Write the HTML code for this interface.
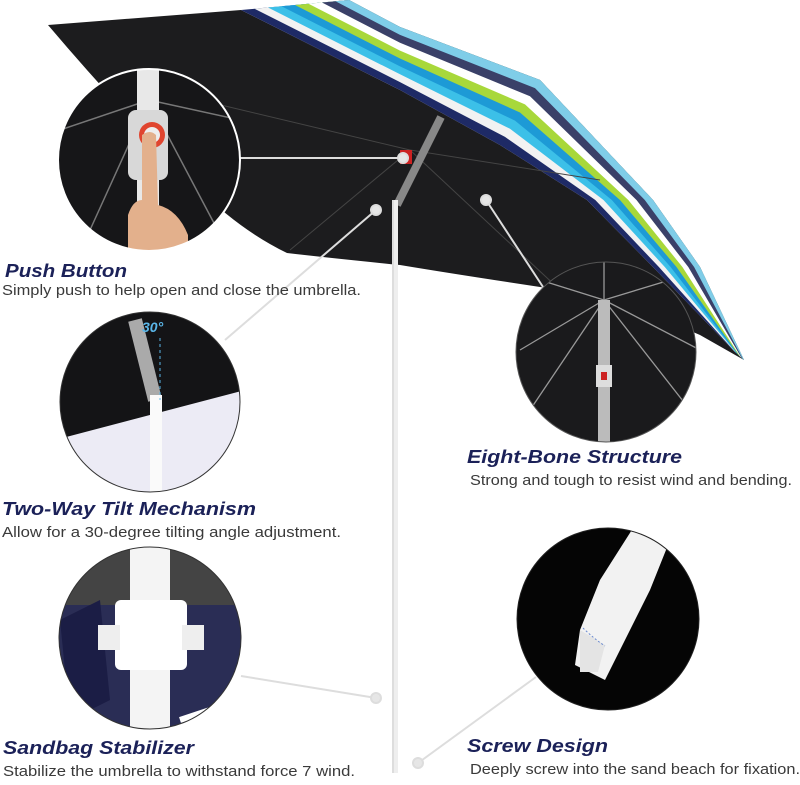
<!DOCTYPE html>
<html><head><meta charset="utf-8"><style>
html,body{margin:0;padding:0;background:#fff;width:800px;height:785px;overflow:hidden}
.t{font-family:"Liberation Sans",sans-serif;font-weight:bold;font-style:italic;font-size:18px;fill:#1b2158}
.d{font-family:"Liberation Sans",sans-serif;font-size:14.5px;fill:#3a3a3a}
</style></head><body>
<svg width="800" height="785" viewBox="0 0 800 785" xmlns="http://www.w3.org/2000/svg">
<defs>
<clipPath id="c1"><circle cx="149" cy="160" r="91"/></clipPath>
<clipPath id="c2"><circle cx="150" cy="402" r="90"/></clipPath>
<clipPath id="c3"><circle cx="150" cy="638" r="91"/></clipPath>
<clipPath id="c4"><circle cx="606" cy="352" r="90"/></clipPath>
<clipPath id="c5"><circle cx="608" cy="619" r="91"/></clipPath>
</defs>
<!-- canopy -->
<path d="M48,25 L241,10 L400,90 L500,145 L587,200 L653,267 L733,350 L744,360 L700,335 Q620,300 560,290 Q460,275 400,265 Q330,258 287,253 Q240,230 200,190 Q120,110 48,25 Z" fill="#1c1c1e"/>
<!-- stripes band -->
<g>
<polygon points="241,10 400,90 500,145 587,200 653,267 733,350 744,360 700,267 653,200 540,80 400,27 349,0" fill="#1e2a66"/>
<polygon points="254.5,8.8 400,82.1 505,136.9 595.3,200 658.9,267 734.4,351.3 744,360 700,267 653,200 540,80 400,27 349,0" fill="#f2f2f2"/>
<polygon points="268,7.5 400,74.3 510,128.8 603.5,200 664.8,267 735.8,352.5 744,360 700,267 653,200 540,80 400,27 349,0" fill="#3cc0e8"/>
<polygon points="281.5,6.3 400,66.4 515,120.6 611.8,200 670.6,267 737.1,353.8 744,360 700,267 653,200 540,80 400,27 349,0" fill="#1d9ad6"/>
<polygon points="295,5 400,58.5 520,112.5 620,200 676.5,267 738.5,355 744,360 700,267 653,200 540,80 400,27 349,0" fill="#a8d83a"/>
<polygon points="308.5,3.8 400,50.6 525,104.4 628.3,200 682.4,267 739.9,356.3 744,360 700,267 653,200 540,80 400,27 349,0" fill="#ffffff"/>
<polygon points="322,2.5 400,42.8 530,96.3 636.5,200 688.3,267 741.3,357.5 744,360 700,267 653,200 540,80 400,27 349,0" fill="#3a4068"/>
<polygon points="335.5,1.3 400,34.9 535,88.1 644.8,200 694.1,267 742.6,358.8 744,360 700,267 653,200 540,80 400,27 349,0" fill="#7fcde8"/>
</g>
<!-- ribs -->
<g stroke="#444" stroke-width="1" fill="none">
<line x1="410" y1="150" x2="290" y2="250"/><line x1="410" y1="150" x2="560" y2="290"/>
<line x1="410" y1="150" x2="600" y2="180"/><line x1="410" y1="150" x2="200" y2="100"/>
</g>
<!-- pole -->
<line x1="441" y1="117" x2="397" y2="205" stroke="#888" stroke-width="8"/>
<rect x="400" y="150" width="12" height="14" fill="#c22"/>
<line x1="395" y1="200" x2="395" y2="773" stroke="#eee" stroke-width="6"/>
<line x1="393" y1="200" x2="393" y2="773" stroke="#ccc" stroke-width="1"/>
<!-- connectors -->
<g stroke="#ddd" stroke-width="2" fill="#e6e6e6">
<line x1="240" y1="158" x2="403" y2="158"/><circle cx="403" cy="158" r="5"/>
<line x1="225" y1="340" x2="376" y2="210"/><circle cx="376" cy="210" r="5"/>
<line x1="486" y1="200" x2="545" y2="290"/><circle cx="486" cy="200" r="5"/>
<line x1="241" y1="676" x2="376" y2="698"/><circle cx="376" cy="698" r="5"/>
<line x1="418" y1="763" x2="536" y2="677"/><circle cx="418" cy="763" r="5"/>
</g>
<!-- circle 1 push -->
<g clip-path="url(#c1)">
<rect x="50" y="60" width="200" height="200" fill="#161618"/>
<g stroke="#777" stroke-width="1.5"><line x1="149" y1="100" x2="60" y2="130"/><line x1="149" y1="100" x2="240" y2="120"/><line x1="149" y1="100" x2="90" y2="230"/><line x1="149" y1="100" x2="215" y2="225"/></g>
<rect x="137" y="60" width="22" height="200" fill="#e8e8e8"/>
<rect x="128" y="110" width="40" height="70" rx="8" fill="#d8d8d8"/>
<circle cx="152" cy="135" r="13" fill="#e0452f"/><circle cx="152" cy="135" r="8" fill="#eee"/>
<path d="M142,135 q8,-6 14,0 l2,70 q20,5 30,30 l0,30 l-60,0 l0,-50 q5,-15 14,-15 z" fill="#e3b08c"/>
</g>
<circle cx="149" cy="160" r="91" fill="none" stroke="#fff" stroke-width="2"/>
<!-- circle 2 tilt -->
<g clip-path="url(#c2)">
<rect x="55" y="310" width="200" height="190" fill="#141416"/>
<path d="M55,440 L245,390 L245,500 L55,500 Z" fill="#ecebf5"/>
<line x1="135" y1="320" x2="155" y2="400" stroke="#aaa" stroke-width="14"/>
<rect x="150" y="395" width="12" height="100" fill="#fafafa"/>
<text x="142" y="332" font-family="Liberation Sans,sans-serif" font-weight="bold" font-style="italic" font-size="14" fill="#5ab6e8">30°</text>
<line x1="160" y1="338" x2="160" y2="400" stroke="#5ab6e8" stroke-dasharray="3,3"/>
</g>
<circle cx="150" cy="402" r="90" fill="none" stroke="#333" stroke-width="1"/>
<!-- circle 3 sandbag -->
<g clip-path="url(#c3)">
<rect x="55" y="545" width="200" height="190" fill="#2a2d55"/>
<rect x="55" y="545" width="200" height="60" fill="#444"/>
<path d="M60,620 L100,600 L110,700 L70,720 Z" fill="#1b1d45"/>
<rect x="130" y="545" width="40" height="190" fill="#f4f4f4"/>
<rect x="115" y="600" width="72" height="70" rx="6" fill="#fff"/>
<rect x="98" y="625" width="22" height="25" fill="#eee"/><rect x="182" y="625" width="22" height="25" fill="#eee"/>
<path d="M180,720 L240,700" stroke="#fff" stroke-width="6"/>
</g>
<circle cx="150" cy="638" r="91" fill="none" stroke="#333" stroke-width="1"/>
<!-- circle 4 eight-bone -->
<g clip-path="url(#c4)">
<rect x="512" y="260" width="190" height="190" fill="#1a1a1c"/>
<g stroke="#999" stroke-width="1.3"><line x1="604" y1="300" x2="520" y2="350"/><line x1="604" y1="300" x2="700" y2="350"/><line x1="604" y1="300" x2="530" y2="410"/><line x1="604" y1="300" x2="690" y2="410"/><line x1="604" y1="300" x2="604" y2="262"/><line x1="604" y1="300" x2="540" y2="280"/><line x1="604" y1="300" x2="670" y2="280"/></g>
<rect x="598" y="300" width="12" height="150" fill="#bbb"/>
<rect x="596" y="365" width="16" height="22" fill="#ddd"/><rect x="601" y="372" width="6" height="8" fill="#c22"/>
</g>
<circle cx="606" cy="352" r="90" fill="none" stroke="#555" stroke-width="1"/>
<!-- circle 5 screw -->
<g clip-path="url(#c5)">
<rect x="515" y="525" width="190" height="190" fill="#050505"/>
<path d="M635,525 L670,540 L650,590 L620,650 L605,680 L575,665 L580,630 L600,580 Z" fill="#f2f2f2"/>
<path d="M580,630 L605,645 L598,672 L580,672 Z" fill="#e4e4e4"/>
<path d="M583,628 q10,10 22,18" stroke="#6a8ad0" stroke-dasharray="2,2" fill="none"/>
</g>
<circle cx="608" cy="619" r="91" fill="none" stroke="#222" stroke-width="1"/>
<!-- texts -->
<text class="t" x="5" y="277" textLength="122" lengthAdjust="spacingAndGlyphs">Push Button</text>
<text class="d" x="2" y="295" textLength="359" lengthAdjust="spacingAndGlyphs">Simply push to help open and close the umbrella.</text>
<text class="t" x="2" y="515" textLength="254" lengthAdjust="spacingAndGlyphs">Two-Way Tilt Mechanism</text>
<text class="d" x="2" y="537" textLength="339" lengthAdjust="spacingAndGlyphs">Allow for a 30-degree tilting angle adjustment.</text>
<text class="t" x="3" y="754" textLength="191" lengthAdjust="spacingAndGlyphs">Sandbag Stabilizer</text>
<text class="d" x="3" y="776" textLength="352" lengthAdjust="spacingAndGlyphs">Stabilize the umbrella to withstand force 7 wind.</text>
<text class="t" x="467" y="463" textLength="215" lengthAdjust="spacingAndGlyphs">Eight-Bone Structure</text>
<text class="d" x="470" y="485" textLength="322" lengthAdjust="spacingAndGlyphs">Strong and tough to resist wind and bending.</text>
<text class="t" x="467" y="752" textLength="141" lengthAdjust="spacingAndGlyphs">Screw Design</text>
<text class="d" x="470" y="774" textLength="330" lengthAdjust="spacingAndGlyphs">Deeply screw into the sand beach for fixation.</text>
</svg>
</body></html>
